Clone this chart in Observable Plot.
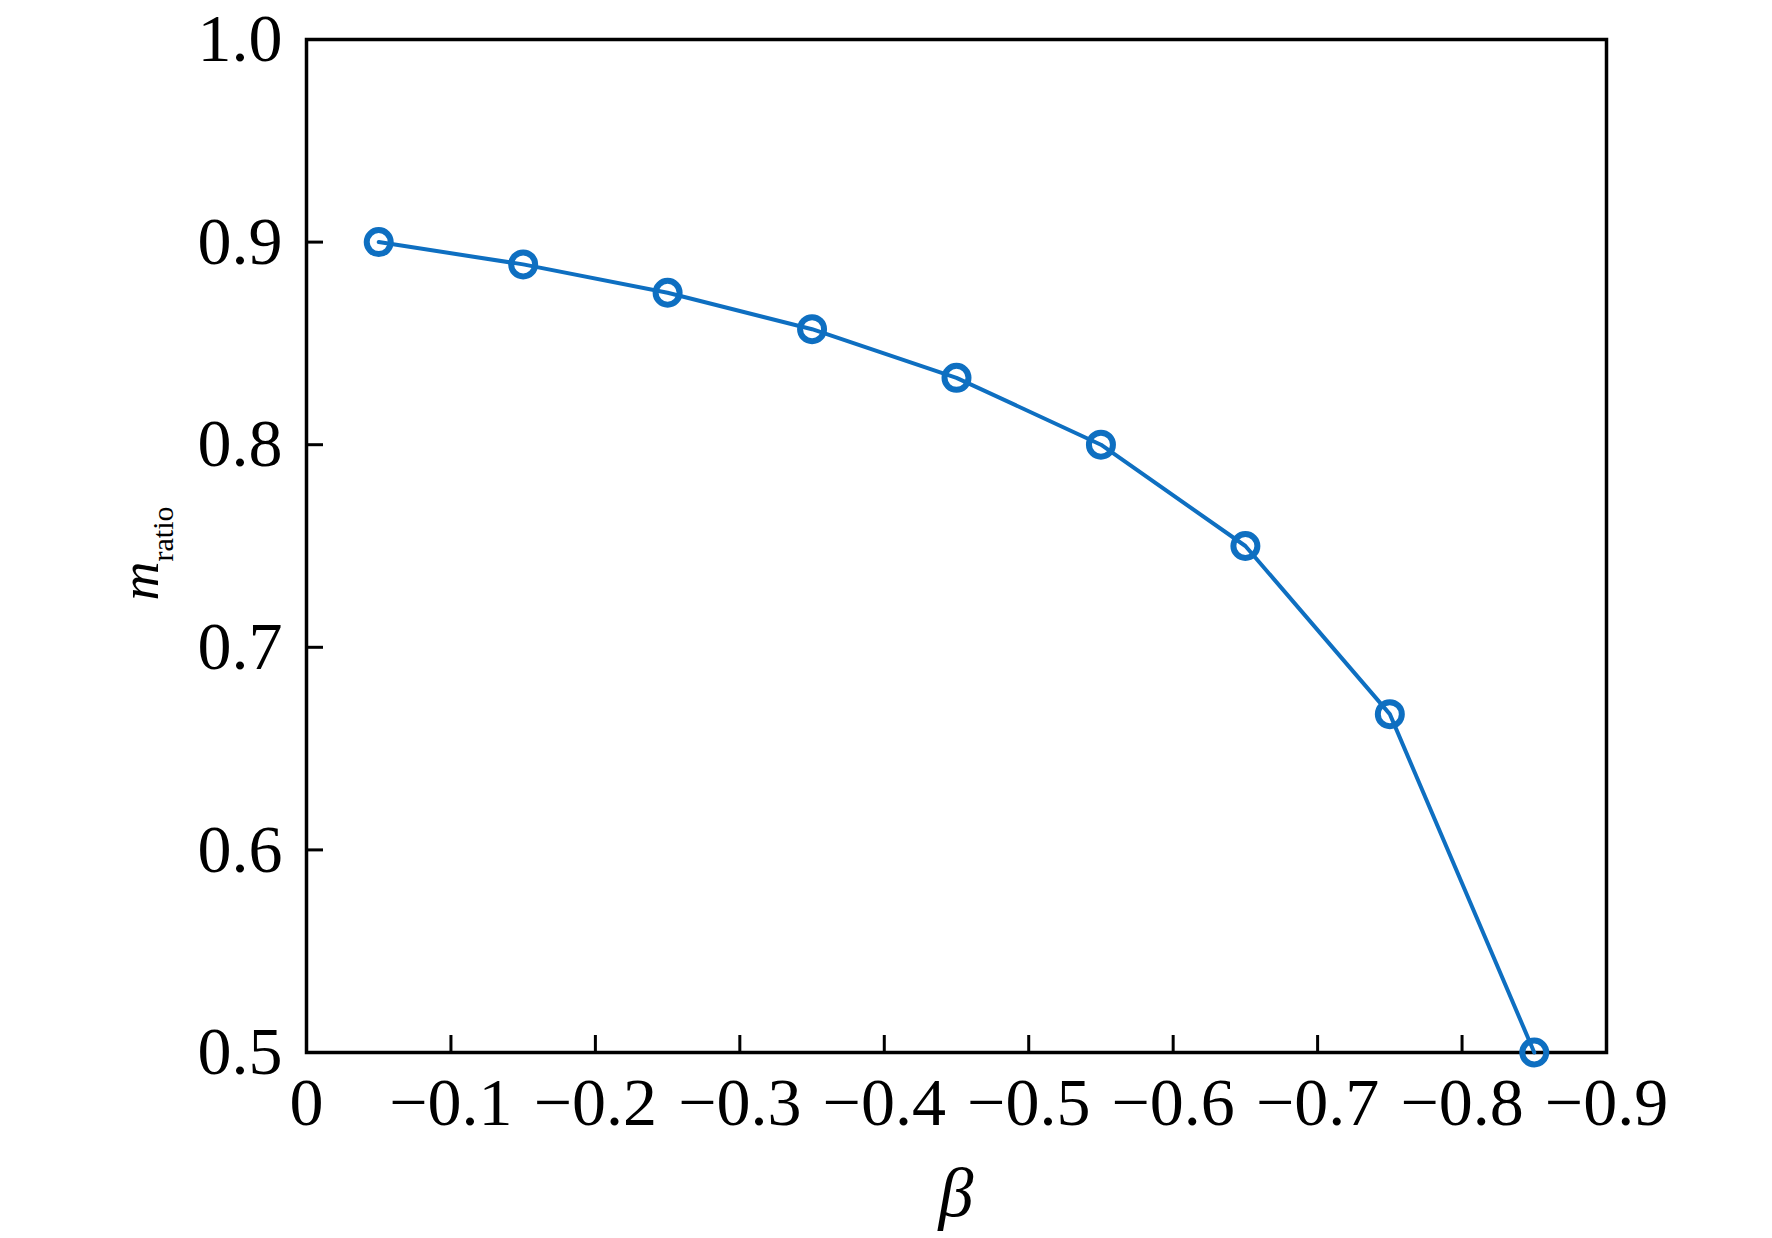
<!DOCTYPE html>
<html>
<head>
<meta charset="utf-8">
<script src="https://cdn.jsdelivr.net/npm/d3@7"></script>
<script src="https://cdn.jsdelivr.net/npm/@observablehq/plot@0.6"></script>
<style>
  html, body { margin: 0; padding: 0; background: #fff; }
</style>
</head>
<body>
<div id="chart"></div>
<script>
// ---- data ----
const beta   = [-0.05, -0.15, -0.25, -0.35, -0.45, -0.55, -0.65, -0.75, -0.85];
const mRatio = [0.900, 0.889, 0.875, 0.857, 0.833, 0.800, 0.750, 0.667, 0.500];
const xTicks = [0, -0.1, -0.2, -0.3, -0.4, -0.5, -0.6, -0.7, -0.8, -0.9];
const yTicks = [0.5, 0.6, 0.7, 0.8, 0.9, 1.0];
const xLabel = "β";
const yLabelMain = "m";
const yLabelSub = "ratio";

const data = beta.map((b, i) => ({beta: b, m: mRatio[i]}));

const W = 1772, H = 1238;
const mL = 306, mR = 166, mT = 39, mB = 186;
const blue = "#0e6fc1";
const serif = "'Liberation Serif', 'Times New Roman', Times, serif";
const fmtX = d => d === 0 ? "0" : d3.format(".1f")(d);
const fmtY = d3.format(".1f");

const chart = Plot.plot({
  width: W,
  height: H,
  marginLeft: mL,
  marginRight: mR,
  marginTop: mT,
  marginBottom: mB,
  style: {fontFamily: serif, fontSize: "68px", color: "#000", background: "#fff", overflow: "visible"},
  x: {domain: [0, -0.9]},
  y: {domain: [0.5, 1.0]},
  marks: [
    Plot.axisX(xTicks, {tickSize: 0, tickPadding: 24, tickFormat: fmtX, fontSize: 68, label: null}),
    Plot.axisX(xTicks, {tickSize: -17, strokeWidth: 3, tickFormat: () => "", label: null}),
    Plot.axisY(yTicks, {tickSize: 0, tickPadding: 24, tickFormat: fmtY, fontSize: 68, label: null}),
    Plot.axisY(yTicks, {tickSize: -17, strokeWidth: 3, tickFormat: () => "", label: null}),
    Plot.frame({stroke: "#000", strokeWidth: 3.5}),
    Plot.line(data, {x: "beta", y: "m", stroke: blue, strokeWidth: 4}),
    Plot.dot(data, {x: "beta", y: "m", r: 12, stroke: blue, strokeWidth: 6, fill: "none"})
  ]
});

const svg = d3.select(chart);
const cx = mL + (W - mL - mR) / 2;
const cy = mT + (H - mT - mB) / 2;

svg.append("text")
  .attr("x", cx)
  .attr("y", 1216)
  .attr("text-anchor", "middle")
  .attr("font-family", serif)
  .attr("font-style", "italic")
  .attr("font-size", 70)
  .attr("fill", "#000")
  .text(xLabel);

const yl = svg.append("text")
  .attr("transform", `translate(158, ${cy + 8}) rotate(-90)`)
  .attr("text-anchor", "middle")
  .attr("font-family", serif)
  .attr("fill", "#000");
yl.append("tspan").attr("font-style", "italic").attr("font-size", 54).text(yLabelMain);
yl.append("tspan").attr("font-size", 30).attr("dy", 15).text(yLabelSub);

document.getElementById("chart").appendChild(chart);
</script>
</body>
</html>
